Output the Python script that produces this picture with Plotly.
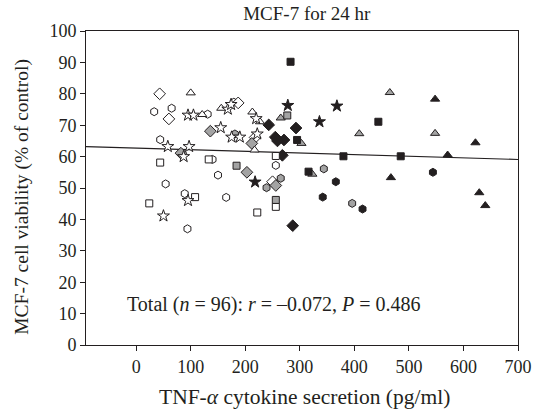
import plotly.graph_objects as go

# ---- data (x: TNF-alpha pg/ml, y: MCF-7 viability %) ----
hex_open_x = [33, 65, 44, 131, 179, 150, 54, 89, 94, 140, 165, 256]
hex_open_y = [74.3, 75.4, 65.4, 73.5, 77.3, 54.1, 51.3, 48.2, 37.0, 59.1, 47.0, 57.2]
hex_gray_x = [181, 265, 239, 344, 396]
hex_gray_y = [67.2, 53.1, 50.1, 56.1, 45.1]
hex_black_x = [366, 342, 415, 544]
hex_black_y = [52.0, 47.1, 43.3, 55.0]

dia_open_x = [43, 60, 187, 218, 250]
dia_open_y = [80.0, 72.0, 77.1, 66.1, 52.0]
dia_gray_x = [82, 136, 203, 212, 256]
dia_gray_y = [61.1, 68.1, 55.0, 64.2, 50.8]
dia_black_x = [243, 293, 255, 271, 259, 268, 287]
dia_black_y = [70.1, 69.1, 66.2, 65.3, 65.0, 60.4, 38.0]

tri_open_x = [100, 121, 156, 213, 227, 217]
tri_open_y = [80.3, 73.4, 75.4, 74.2, 71.1, 62.1]
tri_gray_x = [265, 303, 323, 409, 465, 548]
tri_gray_y = [72.3, 64.2, 54.4, 67.3, 80.4, 67.4]
tri_black_x = [467, 548, 622, 571, 629, 640]
tri_black_y = [53.3, 78.3, 64.4, 60.5, 48.5, 44.4]

sq_open_x = [44, 133, 108, 24, 256, 256, 222]
sq_open_y = [58.1, 59.1, 47.1, 45.1, 60.2, 44.0, 42.2]
sq_gray_x = [184, 277, 256]
sq_gray_y = [57.1, 73.1, 46.2]
sq_black_x = [283, 444, 295, 316, 380, 485]
sq_black_y = [90.2, 71.1, 65.3, 55.2, 60.1, 60.1]

star_open_x = [95, 105, 58, 97, 87, 95, 50, 155, 168, 174, 175, 190, 222, 220]
star_open_y = [73.2, 73.2, 63.2, 63.2, 60.0, 46.0, 41.1, 69.2, 75.1, 76.6, 66.2, 66.2, 67.2, 72.1]
star_black_x = [218, 278, 336, 368]
star_black_y = [51.9, 76.3, 71.1, 76.1]

fit_intercept = 62.72
fit_slope = -0.0052
x_range = [-92, 700]

x_ticks = [0, 100, 200, 300, 400, 500, 600, 700]
y_ticks = [0, 10, 20, 30, 40, 50, 60, 70, 80, 90, 100]

WHITE, GRAY, BLACK = "#ffffff", "#a3a3a3", "#231f20"

groups = [
    (hex_open_x, hex_open_y, "hexagon", WHITE, 8),
    (hex_gray_x, hex_gray_y, "hexagon", GRAY, 8),
    (hex_black_x, hex_black_y, "hexagon", BLACK, 8),
    (dia_open_x, dia_open_y, "diamond", WHITE, 9),
    (dia_gray_x, dia_gray_y, "diamond", GRAY, 9),
    (dia_black_x, dia_black_y, "diamond", BLACK, 9),
    (tri_open_x, tri_open_y, "triangle-up", WHITE, 8),
    (tri_gray_x, tri_gray_y, "triangle-up", GRAY, 8),
    (tri_black_x, tri_black_y, "triangle-up", BLACK, 8),
    (sq_open_x, sq_open_y, "square", WHITE, 7),
    (sq_gray_x, sq_gray_y, "square", GRAY, 7),
    (sq_black_x, sq_black_y, "square", BLACK, 7),
    (star_open_x, star_open_y, "star", WHITE, 9),
    (star_black_x, star_black_y, "star", BLACK, 9),
]

fig = go.Figure()
fig.add_trace(go.Scatter(
    x=x_range, y=[fit_intercept + fit_slope * v for v in x_range],
    mode="lines", line=dict(color=BLACK, width=1.2), showlegend=False, hoverinfo="skip"))
for gx, gy, sym, col, sz in groups:
    fig.add_trace(go.Scatter(
        x=gx, y=gy, mode="markers", showlegend=False,
        marker=dict(symbol=sym, size=sz, color=col, line=dict(color=BLACK, width=1))))

FONT = "Liberation Serif"
TXT = "#231f20"
axis_common = dict(showgrid=False, zeroline=False, showline=True, linecolor=BLACK, linewidth=1,
                   mirror=True, ticks="outside", ticklen=5, tickcolor=BLACK,
                   tickfont=dict(family=FONT, size=18, color=TXT))
fig.update_layout(
    width=544, height=417,
    margin=dict(l=86, r=16, t=31, b=72),
    paper_bgcolor="white", plot_bgcolor="white",
    title=dict(text="MCF-7 for 24 hr", x=0.564, xanchor="center", y=0.968, yanchor="middle",
               font=dict(family=FONT, size=19, color=TXT)),
    xaxis=dict(range=x_range, tickvals=x_ticks, **axis_common),
    yaxis=dict(range=[0, 100], tickvals=y_ticks, **axis_common),
    annotations=[
        dict(x=-20, y=13, xref="x", yref="y", xanchor="left", yanchor="middle", showarrow=False,
             text="Total (<i>n</i> = 96): <i>r</i> = –0.072, <i>P</i> = 0.486",
             font=dict(family=FONT, size=20, color=TXT)),
        dict(x=0.505, y=-0.166, xref="paper", yref="paper", xanchor="center", yanchor="middle",
             showarrow=False, text="TNF-<i>α</i> cytokine secretion (pg/ml)",
             font=dict(family=FONT, size=21.5, color=TXT)),
        dict(x=-0.149, y=0.471, xref="paper", yref="paper", xanchor="center", yanchor="middle",
             showarrow=False, textangle=-90, text="MCF-7 cell viability (% of control)",
             font=dict(family=FONT, size=19.5, color=TXT)),
    ],
)
fig.write_html("out.html")
